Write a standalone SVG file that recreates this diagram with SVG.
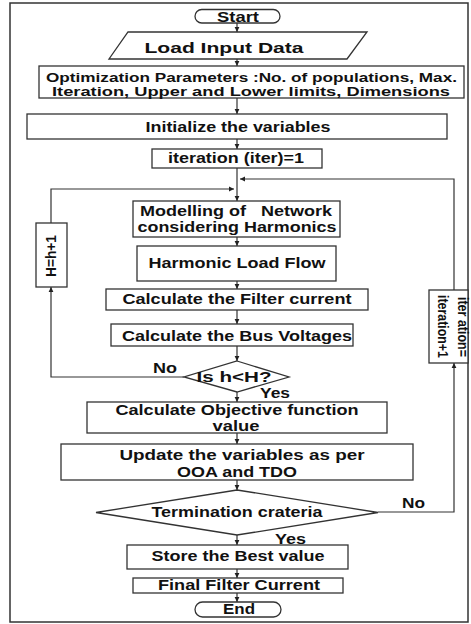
<svg xmlns="http://www.w3.org/2000/svg" width="471" height="624" viewBox="0 0 471 624">
<defs>
<marker id="ah" markerWidth="6" markerHeight="6" refX="5" refY="3" orient="auto" markerUnits="userSpaceOnUse">
<path d="M0,0.6 L5,3 L0,5.4 Z" fill="#222"/>
</marker>
</defs>
<style>
.box{fill:#fff;stroke:#333;stroke-width:1.3}
.ln{fill:none;stroke:#333;stroke-width:1.2}
.t{font-family:"Liberation Sans",Arial,sans-serif;font-weight:bold;font-size:15px;fill:#111;text-anchor:middle}
.s{font-size:13px}
</style>
<rect x="0" y="0" width="471" height="624" fill="#fff"/>
<rect x="10" y="3" width="458" height="619" fill="none" stroke="#333" stroke-width="1.5"/>

<g id="connectors">
<line class="ln" x1="237" y1="23" x2="237" y2="32" marker-end="url(#ah)"/>
<line class="ln" x1="237" y1="59" x2="237" y2="66" marker-end="url(#ah)"/>
<line class="ln" x1="237" y1="98" x2="237" y2="114" marker-end="url(#ah)"/>
<line class="ln" x1="237" y1="139" x2="237" y2="149" marker-end="url(#ah)"/>
<line class="ln" x1="237" y1="168" x2="237" y2="201" marker-end="url(#ah)"/>
<line class="ln" x1="237" y1="237" x2="237" y2="246" marker-end="url(#ah)"/>
<line class="ln" x1="237" y1="281" x2="237" y2="289" marker-end="url(#ah)"/>
<line class="ln" x1="237" y1="310" x2="237" y2="324" marker-end="url(#ah)"/>
<line class="ln" x1="237" y1="346" x2="237" y2="361" marker-end="url(#ah)"/>
<line class="ln" x1="237" y1="392" x2="237" y2="402" marker-end="url(#ah)"/>
<line class="ln" x1="237" y1="433" x2="237" y2="444" marker-end="url(#ah)"/>
<line class="ln" x1="237" y1="480" x2="237" y2="490" marker-end="url(#ah)"/>
<line class="ln" x1="237" y1="535" x2="237" y2="545" marker-end="url(#ah)"/>
<line class="ln" x1="237" y1="569" x2="237" y2="578" marker-end="url(#ah)"/>
<line class="ln" x1="237" y1="593" x2="237" y2="602" marker-end="url(#ah)"/>
<polyline class="ln" points="184,377 51,377 51,287" marker-end="url(#ah)"/>
<polyline class="ln" points="51,223 51,189 234,189" marker-end="url(#ah)"/>
<polyline class="ln" points="378,512 454,512 454,363" marker-end="url(#ah)"/>
<polyline class="ln" points="454,290 454,179 240,179" marker-end="url(#ah)"/>
</g>

<g id="start">
<rect class="box" x="195" y="9.5" width="85" height="13.5" rx="6.75"/>
<text class="t" x="238" y="21.5" textLength="42" lengthAdjust="spacingAndGlyphs">Start</text>
</g>
<g id="load">
<polygon class="box" points="128,32 367,32 347,59 109,59"/>
<text class="t" x="224" y="53" textLength="159" lengthAdjust="spacingAndGlyphs">Load Input Data</text>
</g>
<g id="params">
<rect class="box" x="39" y="66" width="425" height="32"/>
<text class="t s" x="251.5" y="81.5" textLength="411" lengthAdjust="spacingAndGlyphs">Optimization Parameters :No. of populations, Max.</text>
<text class="t s" x="251" y="95.5" textLength="398" lengthAdjust="spacingAndGlyphs">Iteration, Upper and Lower limits, Dimensions</text>
</g>
<g id="init">
<rect class="box" x="27" y="114" width="420" height="25"/>
<text class="t" x="238" y="132" textLength="185" lengthAdjust="spacingAndGlyphs">Initialize the variables</text>
</g>
<g id="iter1">
<rect class="box" x="152" y="149" width="170" height="19"/>
<text class="t" x="236" y="163" textLength="136" lengthAdjust="spacingAndGlyphs">iteration (iter)=1</text>
</g>
<g id="modelling">
<rect class="box" x="133" y="201" width="207" height="36"/>
<text class="t" x="236" y="216" textLength="192" lengthAdjust="spacingAndGlyphs" xml:space="preserve">Modelling of   Network</text>
<text class="t" x="237" y="232" textLength="199" lengthAdjust="spacingAndGlyphs">considering Harmonics</text>
</g>
<g id="hlf">
<rect class="box" x="137" y="246" width="199" height="35"/>
<text class="t" x="237" y="268" textLength="177" lengthAdjust="spacingAndGlyphs">Harmonic Load Flow</text>
</g>
<g id="filter">
<rect class="box" x="106" y="289" width="262" height="21"/>
<text class="t" x="237" y="304" textLength="229" lengthAdjust="spacingAndGlyphs">Calculate the Filter current</text>
</g>
<g id="bus">
<rect class="box" x="111" y="324" width="242" height="22"/>
<text class="t" x="237" y="341" textLength="230" lengthAdjust="spacingAndGlyphs">Calculate the Bus Voltages</text>
</g>
<g id="dec1">
<polygon class="box" points="237,361 289,377 237,392 184,377"/>
<text class="t" x="234" y="382" textLength="75" lengthAdjust="spacingAndGlyphs">Is h&lt;H?</text>
<text class="t" x="165" y="373" textLength="24" lengthAdjust="spacingAndGlyphs">No</text>
<text class="t" x="275" y="398" textLength="30" lengthAdjust="spacingAndGlyphs">Yes</text>
</g>
<g id="hbox">
<rect class="box" x="36" y="223" width="31" height="64"/>
<text class="t" transform="translate(51,256) rotate(-90)" x="0" y="5" textLength="42" lengthAdjust="spacingAndGlyphs">H=h+1</text>
</g>
<g id="objective">
<rect class="box" x="87" y="402" width="300" height="31"/>
<text class="t" x="237" y="415" textLength="243" lengthAdjust="spacingAndGlyphs">Calculate Objective function</text>
<text class="t" x="236" y="431" textLength="47" lengthAdjust="spacingAndGlyphs">value</text>
</g>
<g id="update">
<rect class="box" x="61" y="444" width="352" height="36"/>
<text class="t" x="242" y="460" textLength="245" lengthAdjust="spacingAndGlyphs">Update the variables as per</text>
<text class="t" x="237" y="477" textLength="120" lengthAdjust="spacingAndGlyphs">OOA and TDO</text>
</g>
<g id="term">
<polygon class="box" points="237,490 378,512.5 237,535 96,512.5"/>
<text class="t" x="237" y="517" textLength="171" lengthAdjust="spacingAndGlyphs">Termination crateria</text>
<text class="t" x="413.5" y="508" textLength="23" lengthAdjust="spacingAndGlyphs">No</text>
<text class="t" x="290.5" y="544" textLength="31" lengthAdjust="spacingAndGlyphs">Yes</text>
</g>
<g id="iterbox">
<rect class="box" x="429" y="290" width="39" height="73"/>
<text class="t" transform="translate(463,327) rotate(90)" x="0" y="5" textLength="60" lengthAdjust="spacingAndGlyphs">iter ation=</text>
<text class="t" transform="translate(443,326.5) rotate(90)" x="0" y="5" textLength="63" lengthAdjust="spacingAndGlyphs">iteration+1</text>
</g>
<g id="store">
<rect class="box" x="127" y="545" width="221" height="24"/>
<text class="t" x="238" y="561" textLength="173" lengthAdjust="spacingAndGlyphs">Store the Best value</text>
</g>
<g id="final">
<rect class="box" x="133" y="578" width="210" height="15"/>
<text class="t" x="239" y="590" textLength="162" lengthAdjust="spacingAndGlyphs">Final Filter Current</text>
</g>
<g id="end">
<rect class="box" x="195" y="602" width="86" height="15" rx="7.5"/>
<text class="t" x="239" y="614" textLength="32" lengthAdjust="spacingAndGlyphs">End</text>
</g>
</svg>
